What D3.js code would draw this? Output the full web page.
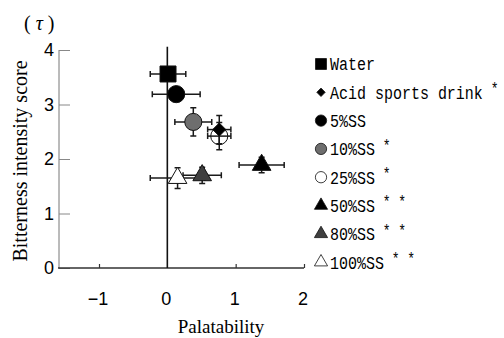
<!DOCTYPE html>
<html>
<head>
<meta charset="utf-8">
<script src="https://cdn.jsdelivr.net/npm/d3@7"></script>
<style>
  body { margin: 0; background: #fff; }
  svg { display: block; }
</style>
</head>
<body>
<div id="chart"></div>
<script>
// data
var groups  = ["Water", "Acid sports drink", "5%SS", "10%SS", "25%SS", "50%SS", "80%SS", "100%SS"];
var marks   = ["", "*", "", "*", "*", "* *", "* *", "* *"];
var palat   = [0.01, 0.76, 0.13, 0.38, 0.76, 1.38, 0.51, 0.15];
var palatSd = [0.26, 0.17, 0.35, 0.27, 0.17, 0.33, 0.28, 0.40];
var bitter  = [3.56, 2.54, 3.19, 2.68, 2.42, 1.89, 1.70, 1.65];
var bitterSd= [0.12, 0.26, 0.12, 0.26, 0.25, 0.14, 0.15, 0.19];
var shapes  = ["square", "diamond", "circle", "circle", "circle", "triangle", "triangle", "triangle"];
var fills   = ["#000", "#000", "#000", "#6e6e6e", "none", "#000", "#3f3f3f", "#fff"];
var xTicks  = [-1, 0, 1, 2];
var yTicks  = [0, 1, 2, 3, 4];

var width = 504, height = 338;
var svg = d3.select("#chart").append("svg")
  .attr("width", width)
  .attr("height", height);

var x = d3.scaleLinear().domain([-1.6, 2]).range([58, 304]);
var y = d3.scaleLinear().domain([0, 4]).range([268, 50]);

var symType = {
  square: d3.symbolSquare,
  diamond: d3.symbolDiamond2,
  circle: d3.symbolCircle,
  triangle: d3.symbolTriangle
};
var symSize = { square: 256, diamond: 110, circle: 230, triangle: 150 };
var legSize = { square: 120, diamond: 45, circle: 100, triangle: 75 };

// left axis (grey, ticks pointing in)
var yAxis = svg.append("g")
  .attr("transform", "translate(59,0)")
  .call(d3.axisRight(y).tickValues(yTicks).tickSize(11).tickFormat(""));
yAxis.select(".domain").attr("stroke", "#777").attr("d", "M0," + y(0) + "V" + y(4));
yAxis.selectAll(".tick line").attr("stroke", "#888");

svg.selectAll(".ylab")
  .data(yTicks)
  .enter().append("text")
  .attr("x", 54)
  .attr("y", function(d) { return y(d); })
  .attr("dy", "0.36em")
  .attr("text-anchor", "end")
  .style("font-family", "Liberation Sans, Arial, sans-serif")
  .style("font-size", "18px")
  .text(function(d) { return d; });

// bottom axis
var xAxis = svg.append("g")
  .attr("transform", "translate(0," + y(0) + ")")
  .call(d3.axisTop(x).tickValues([-1, 1, 2]).tickSize(4).tickFormat(""));
xAxis.select(".domain").attr("stroke", "#333").attr("stroke-width", 1.6)
  .attr("d", "M" + x(-1.6) + ",0H" + x(2));
xAxis.selectAll(".tick line").attr("stroke", "#333").attr("stroke-width", 1.2);

svg.selectAll(".xlab")
  .data(xTicks)
  .enter().append("text")
  .attr("x", function(d) { return x(d) - 1; })
  .attr("y", 299)
  .attr("dy", "0.36em")
  .attr("text-anchor", "middle")
  .style("font-family", "Liberation Sans, Arial, sans-serif")
  .style("font-size", "18px")
  .text(function(d) { return d < 0 ? "\u2212" + Math.abs(d) : d; });

// vertical line at palatability 0
svg.append("line")
  .attr("x1", x(0)).attr("x2", x(0))
  .attr("y1", y(0)).attr("y2", y(4.06))
  .attr("stroke", "#111").attr("stroke-width", 1.6);

// titles
svg.append("text")
  .attr("x", 221).attr("y", 333)
  .attr("text-anchor", "middle")
  .style("font-family", "Liberation Serif, Times New Roman, serif")
  .style("font-size", "19px")
  .text("Palatability");

svg.append("text")
  .attr("transform", "translate(27,161) rotate(-90)")
  .attr("text-anchor", "middle")
  .style("font-family", "Liberation Serif, Times New Roman, serif")
  .style("font-size", "20px")
  .text("Bitterness intensity score");

svg.append("text")
  .attr("x", 24).attr("y", 30)
  .style("font-family", "Liberation Serif, Times New Roman, serif")
  .style("font-size", "20px")
  .html("( <tspan font-style='italic'>\u03c4</tspan> )");

// points
var idx = d3.range(groups.length);
var plot = svg.append("g");
var eb = plot.selectAll(".eb").data(idx).enter().append("g")
  .attr("stroke", "#1a1a1a").attr("stroke-width", 1.5);

eb.append("line")
  .attr("x1", function(i) { return x(palat[i] - palatSd[i]); })
  .attr("x2", function(i) { return x(palat[i] + palatSd[i]); })
  .attr("y1", function(i) { return y(bitter[i]); })
  .attr("y2", function(i) { return y(bitter[i]); });
eb.append("path")
  .attr("d", function(i) {
    var a = x(palat[i] - palatSd[i]), b = x(palat[i] + palatSd[i]), c = y(bitter[i]);
    return "M" + a + "," + (c - 3) + "V" + (c + 3) + "M" + b + "," + (c - 3) + "V" + (c + 3);
  });
eb.append("line")
  .attr("x1", function(i) { return x(palat[i]); })
  .attr("x2", function(i) { return x(palat[i]); })
  .attr("y1", function(i) { return y(bitter[i] - bitterSd[i]); })
  .attr("y2", function(i) { return y(bitter[i] + bitterSd[i]); });
eb.append("path")
  .attr("d", function(i) {
    var c = x(palat[i]), a = y(bitter[i] - bitterSd[i]), b = y(bitter[i] + bitterSd[i]);
    return "M" + (c - 3) + "," + a + "H" + (c + 3) + "M" + (c - 3) + "," + b + "H" + (c + 3);
  });

// markers, open circle first so the diamond sits on it
var order = [4, 0, 2, 3, 1, 5, 6, 7];
plot.selectAll(".pt").data(order).enter().append("path")
  .attr("transform", function(i) { return "translate(" + x(palat[i]) + "," + y(bitter[i]) + ")"; })
  .attr("d", function(i) { return d3.symbol(symType[shapes[i]], symSize[shapes[i]])(); })
  .attr("fill", function(i) { return fills[i]; })
  .attr("stroke", "#111")
  .attr("stroke-width", 1);

// legend
var leg = svg.append("g").selectAll("g").data(idx).enter().append("g")
  .attr("transform", function(i) { return "translate(321," + (64 + i * 28.3) + ")"; });
leg.append("path")
  .attr("d", function(i) { return d3.symbol(symType[shapes[i]], legSize[shapes[i]])(); })
  .attr("fill", function(i) { return fills[i] === "none" ? "#fff" : fills[i]; })
  .attr("stroke", "#111")
  .attr("stroke-width", 0.8);
var lt = leg.append("text")
  .attr("transform", "translate(9,0) scale(1,1.2)")
  .attr("dy", "0.36em")
  .style("font-family", "Liberation Mono, DejaVu Sans Mono, monospace")
  .style("font-size", "15px");
lt.append("tspan").text(function(i) { return groups[i]; });
lt.append("tspan")
  .attr("dy", "-0.3em")
  .style("font-size", "13px")
  .text(function(i) { return marks[i] ? " " + marks[i] : ""; });
</script>
</body>
</html>
